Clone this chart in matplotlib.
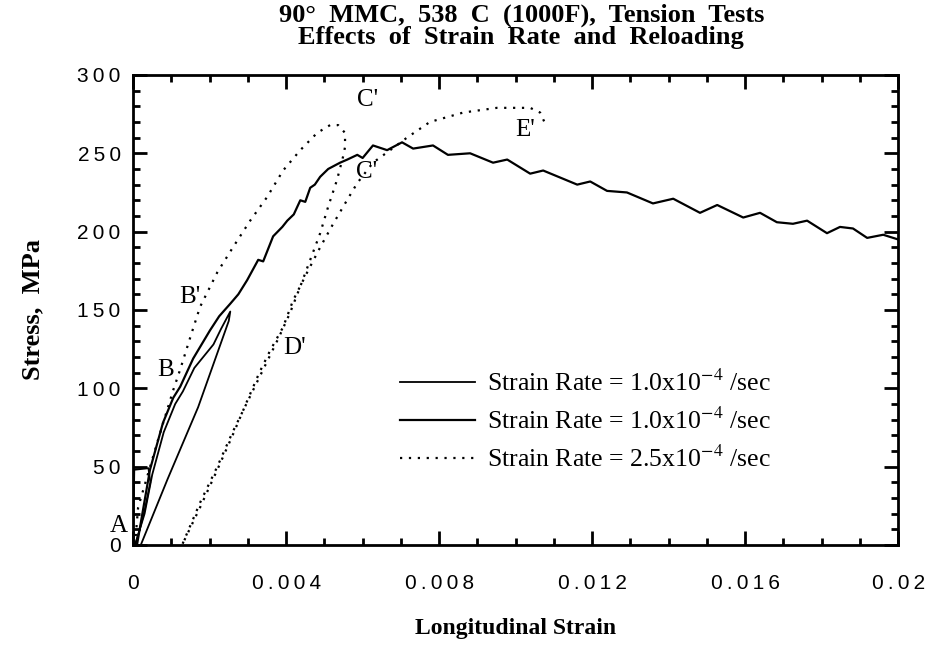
import matplotlib
matplotlib.use("Agg")
import matplotlib.pyplot as plt
from matplotlib.ticker import MultipleLocator

# Test A: small first cycle near the origin (solid)
a_strain = [0.0, 0.00003, 0.0004, 0.00045, 0.0003, 0.00015, 0.00005]
a_stress = [0, 48, 49, 40, 22, 8, 0]

# Test 1: load to B and unload (solid, 1.0e-4 /sec)
t1_strain = [0.00005, 0.0003, 0.0005, 0.0008, 0.0011, 0.0013, 0.0016, 0.0019,
             0.0021, 0.0023, 0.00254, 0.0025, 0.0017, 0.0009, 0.0002]
t1_stress = [0, 20, 45, 72, 90, 98, 113, 122, 128, 138, 149, 143, 88, 42, 0]

# Test 2: reload to failure region (solid, 1.0e-4 /sec)
t2_strain = [0.0001, 0.00044, 0.00078, 0.00105, 0.00123, 0.00157, 0.00201, 0.00225,
             0.00254, 0.00275, 0.00298, 0.00327, 0.0034, 0.00366, 0.0039, 0.00403,
             0.0042, 0.00437, 0.0045, 0.00463, 0.00475, 0.00489, 0.0051, 0.00541,
             0.0056, 0.00586, 0.006, 0.00627, 0.00664, 0.00703, 0.00732, 0.00784,
             0.00823, 0.00881, 0.00941, 0.00978, 0.01038, 0.01072, 0.01161, 0.01195,
             0.01239, 0.01291, 0.01359, 0.01412, 0.01482, 0.01527, 0.01595, 0.01639,
             0.01683, 0.01725, 0.01762, 0.01814, 0.01848, 0.01882, 0.01919, 0.01961,
             0.02]
t2_stress = [0, 48, 78, 94, 101, 119, 137, 146, 154, 160, 169, 182, 181, 197, 203,
             207, 211, 220, 219, 228, 230, 235, 240, 244, 246, 249, 247, 255, 252,
             257, 253, 255, 249, 250, 244, 246, 237, 239, 230, 232, 226, 225, 218,
             221, 212, 217, 209, 212, 206, 205, 207, 199, 203, 202, 196, 198, 195]

# Test 3: 2.5e-4 /sec, load to C', unload, reload to E' (dotted)
d_strain = [0.00005, 0.00013, 0.00065, 0.00105, 0.00123, 0.0015, 0.00175, 0.0022,
            0.00261, 0.00306, 0.0035, 0.00392, 0.00437, 0.00481, 0.00515, 0.00536,
            0.00554, 0.00554, 0.00549, 0.00533, 0.0051, 0.00489, 0.00463, 0.00437,
            0.0041, 0.0038, 0.0035, 0.0030, 0.0026, 0.0022, 0.00175, 0.00128,
            0.00175, 0.0022, 0.0026, 0.0030, 0.0033, 0.00358, 0.00392, 0.00418,
            0.00455, 0.00489, 0.00523, 0.00559, 0.00586, 0.00627, 0.00672, 0.00716,
            0.00776, 0.00863, 0.00951, 0.01038, 0.01064, 0.01077]
d_stress = [0, 24, 67, 99, 112, 133, 152, 174, 190, 207, 222, 239, 252, 263, 268,
            268, 263, 254, 248, 233, 216, 199, 182, 165, 148, 132, 117, 92, 72, 50,
            27, 0, 24, 48, 70, 93, 110, 124, 139, 156, 174, 190, 205, 220, 231, 244,
            252, 260, 270, 276, 279, 279, 276, 269]

# point labels
pt_names = ["A", "B", "B'", "C'", "C'", "D'", "E'"]
pt_strain = [-0.00037, 0.00086, 0.00149, 0.00614, 0.0061, 0.00423, 0.01025]
pt_stress = [12, 112, 158, 284, 238, 126, 265]

xticks = [0, 0.004, 0.008, 0.012, 0.016, 0.02]
xtick_labels = ["0", "0.004", "0.008", "0.012", "0.016", "0.02"]
yticks = [0, 50, 100, 150, 200, 250, 300]
legend_labels = ["Strain Rate = 1.0x10$^{-4}$ /sec",
                 "Strain Rate = 1.0x10$^{-4}$ /sec",
                 "Strain Rate = 2.5x10$^{-4}$ /sec"]


def spaced(s):
    return "\u2009".join(s)


def main():
    plt.rcParams["mathtext.fontset"] = "stix"
    serif = "Liberation Serif"
    sans = "Liberation Sans"

    fig = plt.figure(figsize=(9.31, 6.54), dpi=100)
    ax = fig.add_axes([0.143, 0.1667, 0.8217, 0.7187])

    dots = (0, (1, 3))
    ax.plot(a_strain, a_stress, color="black", lw=1.3)
    l1, = ax.plot(t1_strain, t1_stress, color="black", lw=1.3)
    l2, = ax.plot(t2_strain, t2_stress, color="black", lw=1.6)
    l3, = ax.plot(d_strain, d_stress, color="black", lw=1.6, linestyle=dots)

    for name, x, y in zip(pt_names, pt_strain, pt_stress):
        ax.text(x, y, name, family=serif, fontsize=18, ha="center", va="center",
                clip_on=False)

    ax.set_xlim(0, 0.02)
    ax.set_ylim(0, 300)
    ax.set_xticks(xticks)
    ax.set_xticklabels([spaced(s) for s in xtick_labels], family=sans, fontsize=15)
    ax.set_yticks(yticks)
    ax.set_yticklabels([spaced(str(v)) for v in yticks], family=sans, fontsize=15)
    ax.xaxis.set_minor_locator(MultipleLocator(0.001))
    ax.yaxis.set_minor_locator(MultipleLocator(10))
    ax.tick_params(which="both", direction="in", top=True, right=True, width=2)
    ax.tick_params(which="major", length=10)
    ax.tick_params(which="minor", length=5)
    ax.tick_params(axis="x", which="major", pad=21)
    ax.tick_params(axis="y", which="major", pad=9)
    for sp in ax.spines.values():
        sp.set_linewidth(2)

    ax.set_xlabel("Longitudinal Strain", family=serif, fontweight="bold",
                  fontsize=17, labelpad=18)
    ax.set_ylabel("Stress,  MPa", family=serif, fontweight="bold", fontsize=19,
                  labelpad=24)

    fig.text(0.56, 0.976, "90\u00b0  MMC,  538  C  (1000F),  Tension  Tests",
             family=serif, fontweight="bold", fontsize=19, ha="center", va="center")
    fig.text(0.56, 0.942, "Effects  of  Strain  Rate  and  Reloading",
             family=serif, fontweight="bold", fontsize=19, ha="center", va="center")

    ax.legend([l1, l2, l3], legend_labels, loc="upper left",
              bbox_to_anchor=(0.349, 0.372), frameon=False, borderpad=0,
              borderaxespad=0, handlelength=2.9, handletextpad=0.5,
              labelspacing=0.45, prop={"family": serif, "size": 18.5})

    fig.savefig("out.png", dpi=100)


if __name__ == "__main__":
    main()
